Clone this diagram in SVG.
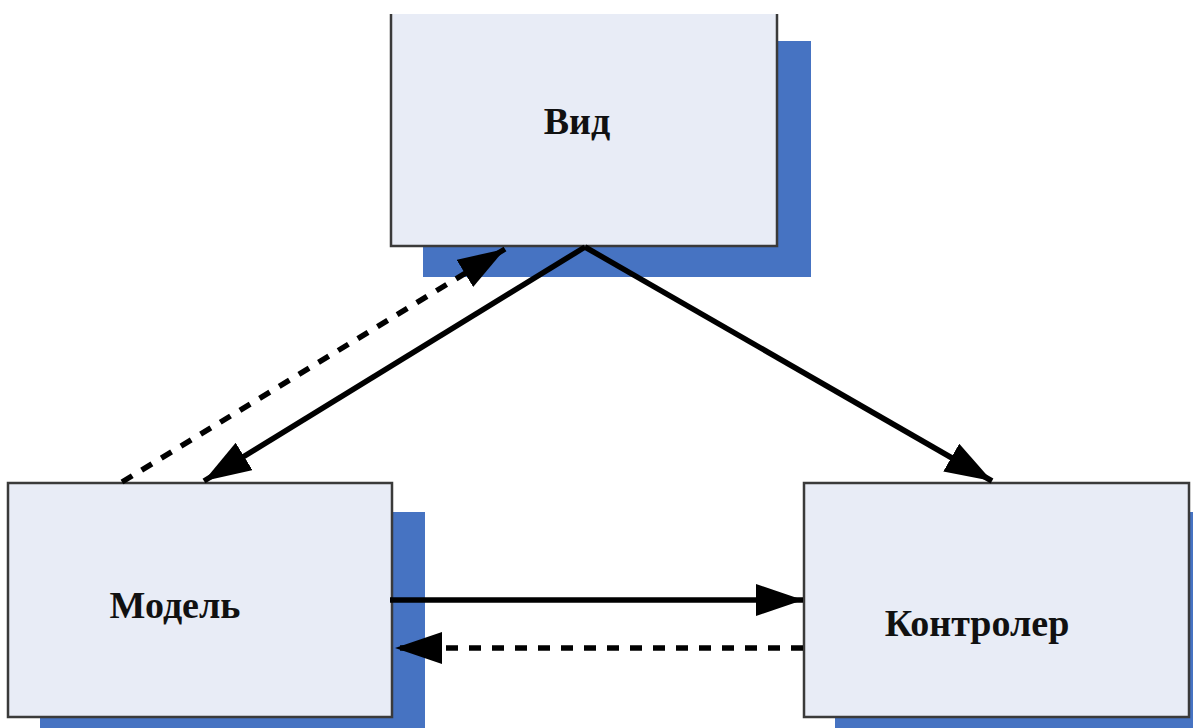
<svg xmlns="http://www.w3.org/2000/svg" width="1193" height="728" viewBox="0 0 1193 728">
<style>
.shadow{fill:#4673C2}
.box{fill:#E8ECF6;stroke:#3a3a3a;stroke-width:2.5}
.face{fill:#E8ECF6}
.edge{fill:none;stroke:#3a3a3a;stroke-width:2.5}
.lbl{font-family:"Liberation Serif","Times New Roman",serif;font-weight:bold;font-size:38px;fill:#111}
.ln{stroke:#000;stroke-width:5.5;fill:none}
.dash{stroke-dasharray:12 11}
</style>
<defs>
<marker id="ah" markerUnits="userSpaceOnUse" markerWidth="52" markerHeight="36" refX="47" refY="16" orient="auto">
<path d="M0,0 L47,16 L0,32 Z" fill="#000"/>
</marker>
</defs>
<rect width="1193" height="728" fill="#fff"/>
<g id="node-vid">
<rect class="shadow" x="423" y="41" width="388" height="236"/>
<rect class="face" x="391" y="14" width="386" height="232"/>
<path class="edge" d="M391,14 V246 H777 V14"/>
<text class="lbl" x="577" y="134" text-anchor="middle">Вид</text>
</g>
<g id="node-model">
<rect class="shadow" x="40" y="512" width="385" height="220"/>
<rect class="box" x="8" y="483" width="384" height="234"/>
<text class="lbl" x="175" y="618" text-anchor="middle">Модель</text>
</g>
<g id="node-controller">
<rect class="shadow" x="835" y="512" width="370" height="220"/>
<rect class="box" x="804" y="483" width="385" height="234"/>
<text class="lbl" x="977" y="636" text-anchor="middle">Контролер</text>
</g>
<g id="connectors">
<line class="ln" x1="585" y1="247" x2="204" y2="481" marker-end="url(#ah)"/>
<line class="ln" x1="585" y1="247" x2="992" y2="481" marker-end="url(#ah)"/>
<line class="ln dash" x1="122" y1="482" x2="505" y2="249" marker-end="url(#ah)"/>
<line class="ln" x1="390" y1="600" x2="803" y2="600" marker-end="url(#ah)"/>
<line class="ln dash" x1="803" y1="648" x2="395" y2="648" marker-end="url(#ah)"/>
</g>
</svg>
